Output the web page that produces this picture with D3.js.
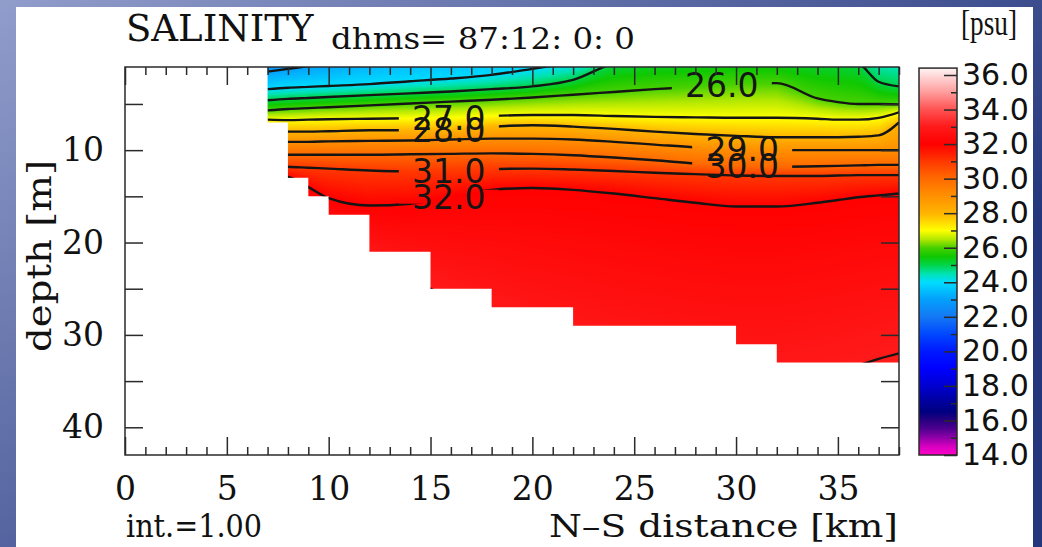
<!DOCTYPE html>
<html>
<head>
  <meta charset="utf-8">
  <title>SALINITY section</title>
  <style>
    body { margin: 0; background: #fff; }
    svg { display: block; }
  </style>
</head>
<body>
<div id="chart"></div>
<script src="https://cdnjs.cloudflare.com/ajax/libs/d3/7.8.5/d3.min.js"></script>
<script>
// stations along the N-S section [km]
var stations = [7, 8, 9, 10, 12, 14, 16, 18, 20, 22, 24, 26, 28, 30, 32, 34, 35, 36, 37, 38];

// salinity contour levels [psu] and depth [m] of each isohaline at the stations
// (values above 1 m or below the bottom are where the line leaves the section)
var levels = [22, 23, 24, 25, 26, 27, 28, 29, 30, 31, 32, 33];
var iso22 = [-0.2, -0.8, -1.4, -2, -3, -3, -3, -3, -3, -3, -3, -3, -3, -3, -3, -3, -3, -3, -3, -3];
var iso23 = [1.5, 1.2, 0.9, 0.6, -0.2, -1, -1.5, -2, -2, -2.5, -2.5, -2.5, -2.5, -2.5, -2.5, -2.5, -2.5, -2.5, -2.5, -2.5];
var iso24 = [3.4, 3.25, 3.15, 3.05, 2.85, 2.55, 2.25, 1.85, 1.2, 0.5, -0.2, -0.8, -1.2, -1.5, -1.5, -1.5, -1.5, -1.2, -1, -0.8];
var iso25 = [4.6, 4.45, 4.35, 4.25, 4.05, 3.85, 3.65, 3.4, 3.1, 2.4, 0.6, 0.0, -0.2, -0.3, -0.2, 0.0, 0.2, 0.6, 2.6, 3.1];
var iso26 = [5.7, 5.55, 5.45, 5.35, 5.15, 4.95, 4.75, 4.55, 4.3, 4.0, 3.7, 3.4, 3.15, 2.85, 2.75, 4.4, 4.8, 5.0, 5.0, 5.05];
var iso27 = [6.7, 6.75, 6.7, 6.65, 6.6, 6.55, 6.5, 6.3, 6.2, 6.2, 6.3, 6.4, 6.45, 6.5, 6.5, 6.6, 6.7, 6.7, 6.5, 5.9];
var iso28 = [7.7, 8.0, 8.0, 7.95, 7.85, 7.85, 7.8, 7.45, 7.3, 7.45, 7.7, 8.0, 8.25, 8.45, 8.6, 8.6, 8.6, 8.55, 8.4, 7.0];
var iso29 = [8.9, 9.1, 9.1, 9.05, 9.0, 8.95, 8.85, 8.75, 8.75, 8.85, 9.1, 9.4, 9.7, 9.9, 10.0, 10.0, 10.0, 10.0, 10.0, 10.0];
var iso30 = [10.3, 10.5, 10.5, 10.5, 10.5, 10.45, 10.4, 10.35, 10.4, 10.55, 10.8, 11.1, 11.45, 11.7, 11.8, 11.75, 11.7, 11.65, 11.6, 11.6];
var iso31 = [11.6, 11.8, 11.9, 12.0, 12.2, 12.3, 12.25, 12.05, 12.0, 12.1, 12.25, 12.45, 12.6, 12.75, 12.8, 12.8, 12.75, 12.7, 12.7, 12.7];
var iso32 = [12.7, 12.9, 14.0, 15.2, 16.0, 15.8, 15.0, 14.3, 14.1, 14.3, 14.7, 15.2, 15.7, 16.1, 16.1, 15.7, 15.4, 15.1, 14.9, 14.7];
var iso33 = [17, 18, 19, 20, 22, 24, 26, 28, 30, 31.5, 33, 34, 35, 35.5, 35.5, 34.5, 34, 33.3, 32.6, 32.0];
var isohalines = [iso22, iso23, iso24, iso25, iso26, iso27, iso28, iso29, iso30, iso31, iso32, iso33];

// bottom steps: bottomDepth[i] holds between bottomEdges[i] and bottomEdges[i+1]
var bottomEdges = [7, 8, 9, 10, 12, 15, 18, 22, 30, 32, 38];
var bottomDepth = [7, 13, 15, 17, 21, 25, 27, 29, 31, 33];

// labelled contours and where along the section the label sits [km]
var labelLevels = [26, 27, 28, 29, 30, 31, 32];
var labelKm = [29.3, 15.9, 15.9, 30.3, 30.3, 15.9, 15.9];

// axis ticks
var xMajor = [0, 5, 10, 15, 20, 25, 30, 35];
var xMinor = d3.range(0, 39).filter(function(d) { return d % 5 !== 0; });
var yMajor = [10, 20, 30, 40];
var yMinor = [5, 15, 25, 35];
var barMajor = d3.range(14, 37, 2);
var barMinor = d3.range(15, 36, 2);

// colour table of the shading
var cmapValue = [14, 14.5, 15, 15.5, 16, 16.5, 17, 18, 19, 20, 21, 22, 23, 24, 24.5, 25, 25.5, 26, 26.5, 27, 27.5, 28, 29, 30, 31, 32, 33, 34, 35, 36, 36.4];
var cmapColor = ["#ff00c8", "#d800c0", "#9000a8", "#500090", "#280080", "#000080", "#000098", "#0000d0", "#0000ff", "#0018ff", "#0048ff", "#1478f4", "#04a0fc", "#00dcff", "#00e2b0", "#00d448", "#10c800", "#48d000", "#b4e800", "#ffff00", "#ffd800", "#ffb400", "#ff9000", "#ff6a00", "#ff3800", "#ff0000", "#ff1a1a", "#ff5252", "#ff9c9c", "#ffdcdc", "#fff4f4"];

var W = 1042, H = 547;
var serif = "'DejaVu Serif', serif", sans = "'DejaVu Sans', sans-serif";

var svg = d3.select("#chart").append("svg").attr("width", W).attr("height", H);
var defs = svg.append("defs");

// slide background + white panel
var bg = defs.append("linearGradient").attr("id", "bg").attr("gradientUnits", "userSpaceOnUse")
    .attr("x1", 0).attr("y1", 0).attr("x2", 477).attr("y2", 640);
bg.append("stop").attr("offset", 0).attr("stop-color", "#919dcb");
bg.append("stop").attr("offset", 1).attr("stop-color", "#24367c");
svg.append("rect").attr("width", W).attr("height", H).attr("fill", "url(#bg)");
svg.append("rect").attr("x", 16).attr("y", 7).attr("width", 1017).attr("height", 540).attr("fill", "#fff");

var x = d3.scaleLinear().domain([0, 38]).range([125, 899]);
var y = d3.scaleLinear().domain([1, 43]).range([67, 455]);
var cy = d3.scaleLinear().domain([14, 36]).range([455, 75]);

function atKm(arr, xk) {
  if (xk <= stations[0]) return arr[0];
  for (var i = 1; i < stations.length; i++) {
    if (xk <= stations[i]) {
      var t = (xk - stations[i - 1]) / (stations[i] - stations[i - 1]);
      return arr[i - 1] + t * (arr[i] - arr[i - 1]);
    }
  }
  return arr[arr.length - 1];
}

function salinityAt(ds, d) {
  if (d <= ds[0]) return levels[0];
  for (var k = 1; k < ds.length; k++) {
    if (d < ds[k]) return levels[k - 1] + (d - ds[k - 1]) / (ds[k] - ds[k - 1]);
  }
  return levels[levels.length - 1];
}

var color = d3.scaleLinear().domain(cmapValue).range(cmapColor).interpolate(d3.interpolateRgb).clamp(true);
var lut = d3.range(0, 2241).map(function(i) { return d3.rgb(color(14 + i / 100)); });

// shaded field as a raster
var x0 = x.range()[0], y0 = y.range()[0];
var pw = Math.round(x.range()[1] - x0), ph = Math.round(y.range()[1] - y0);
var canvas = document.createElement("canvas");
canvas.width = pw; canvas.height = ph;
var ctx = canvas.getContext("2d");
var img = ctx.createImageData(pw, ph);
for (var i = 0; i < pw; i++) {
  var xk = x.invert(x0 + i + 0.5);
  var ds = isohalines.map(function(a) { return atKm(a, xk); });
  for (var j = 0; j < ph; j++) {
    var v = salinityAt(ds, y.invert(y0 + j + 0.5));
    var c = lut[Math.max(0, Math.min(2240, Math.round((v - 14) * 100)))];
    var p = (j * pw + i) * 4;
    img.data[p] = c.r; img.data[p + 1] = c.g; img.data[p + 2] = c.b; img.data[p + 3] = 255;
  }
}
ctx.putImageData(img, 0, 0);

// wet part of the section (white below the bottom)
var wet = [[7, 1], [38, 1]];
for (var b = bottomDepth.length - 1; b >= 0; b--) {
  wet.push([bottomEdges[b + 1], bottomDepth[b]]);
  wet.push([bottomEdges[b], bottomDepth[b]]);
}
defs.append("clipPath").attr("id", "wet").append("path")
    .attr("d", d3.line().x(function(d) { return x(d[0]); }).y(function(d) { return y(d[1]); })(wet) + "Z");

svg.append("image").attr("x", x0).attr("y", y0).attr("width", pw).attr("height", ph)
    .attr("preserveAspectRatio", "none")
    .attr("href", canvas.toDataURL("image/png"))
    .attr("clip-path", "url(#wet)");

// gaps in the lines under the labels
var labels = labelLevels.map(function(l, k) {
  var d = atKm(isohalines[levels.indexOf(l)], labelKm[k]);
  return { level: l, px: x(labelKm[k]), py: y(d) };
});
var mask = defs.append("mask").attr("id", "gaps").attr("maskUnits", "userSpaceOnUse")
    .attr("x", 0).attr("y", 0).attr("width", W).attr("height", H);
mask.append("rect").attr("width", W).attr("height", H).attr("fill", "#fff");
mask.selectAll(".gap").data(labels).enter().append("rect")
    .attr("x", function(d) { return d.px - 50; })
    .attr("y", function(d) { return d.py - 7; })
    .attr("width", 100).attr("height", 14).attr("fill", "#000");

var line = d3.line()
    .x(function(d) { return x(d[0]); })
    .y(function(d) { return y(d[1]); })
    .curve(d3.curveMonotoneX);

svg.append("g").attr("clip-path", "url(#wet)")
  .append("g").attr("mask", "url(#gaps)")
  .selectAll("path").data(isohalines).enter().append("path")
    .attr("d", function(a) { return line(stations.map(function(s, k) { return [s, a[k]]; })); })
    .attr("fill", "none").attr("stroke", "#151515").attr("stroke-width", 2.4);

svg.append("g").selectAll("text").data(labels).enter().append("text")
    .attr("x", function(d) { return d.px; })
    .attr("y", function(d) { return d.py; })
    .attr("dy", "0.36em")
    .attr("text-anchor", "middle")
    .attr("font-family", sans).attr("font-size", 33).attr("fill", "#151515")
    .text(function(d) { return d3.format(".1f")(d.level); });

// frame and inward ticks
function style(g, fs) {
  g.select(".domain").remove();
  g.attr("color", "#2a2a2a").attr("font-family", serif).attr("font-size", fs);
  g.selectAll("line").attr("stroke-width", 1.5);
  g.selectAll("text").attr("fill", "#111");
}
svg.append("g").attr("transform", "translate(0,455)")
    .call(d3.axisBottom(x).tickValues(xMajor).tickSizeInner(-18).tickSizeOuter(0).tickPadding(22))
    .call(style, 33);
svg.append("g").attr("transform", "translate(0,455)")
    .call(d3.axisBottom(x).tickValues(xMinor).tickSizeInner(-8).tickSizeOuter(0).tickFormat(""))
    .call(style, 10);
svg.append("g").attr("transform", "translate(0,67)")
    .call(d3.axisTop(x).tickValues(xMajor).tickSizeInner(-18).tickSizeOuter(0).tickFormat(""))
    .call(style, 10);
svg.append("g").attr("transform", "translate(0,67)")
    .call(d3.axisTop(x).tickValues(xMinor).tickSizeInner(-8).tickSizeOuter(0).tickFormat(""))
    .call(style, 10);
svg.append("g").attr("transform", "translate(125,0)")
    .call(d3.axisLeft(y).tickValues(yMajor).tickSizeInner(-18).tickSizeOuter(0).tickPadding(21))
    .call(style, 33);
svg.append("g").attr("transform", "translate(125,0)")
    .call(d3.axisLeft(y).tickValues(yMinor).tickSizeInner(-18).tickSizeOuter(0).tickFormat(""))
    .call(style, 10);
svg.append("g").attr("transform", "translate(899,0)")
    .call(d3.axisRight(y).tickValues(yMajor.concat(yMinor)).tickSizeInner(-18).tickSizeOuter(0).tickFormat(""))
    .call(style, 10);
svg.append("rect").attr("x", 125).attr("y", 67).attr("width", 774).attr("height", 388)
    .attr("fill", "none").attr("stroke", "#2a2a2a").attr("stroke-width", 1.5);

// colour bar
var bw = 38, bx = 919, bTop = cy(36.4);
var grad = defs.append("linearGradient").attr("id", "bar").attr("x1", 0).attr("y1", 1).attr("x2", 0).attr("y2", 0);
grad.selectAll("stop").data(cmapValue).enter().append("stop")
    .attr("offset", function(v) { return (v - 14) / (36.4 - 14); })
    .attr("stop-color", function(v, k) { return cmapColor[k]; });
svg.append("rect").attr("x", bx).attr("y", bTop).attr("width", bw).attr("height", 455 - bTop)
    .attr("fill", "url(#bar)").attr("stroke", "#2a2a2a").attr("stroke-width", 1.5);
svg.append("g").attr("transform", "translate(" + (bx + bw) + ",0)")
    .call(d3.axisRight(cy).tickValues(barMajor).tickSizeInner(-13).tickSizeOuter(0).tickPadding(5).tickFormat(d3.format(".1f")))
    .call(style, 30)
    .attr("font-family", sans);
svg.append("g").attr("transform", "translate(" + (bx + bw) + ",0)")
    .call(d3.axisRight(cy).tickValues(barMinor).tickSizeInner(-6).tickSizeOuter(0).tickFormat(""))
    .call(style, 10);

// titles
svg.append("text").attr("x", 126).attr("y", 41).attr("font-family", serif).attr("font-size", 37)
    .attr("fill", "#111").text("SALINITY");
svg.append("text").attr("x", 331).attr("y", 49).attr("font-family", serif).attr("font-size", 30)
    .attr("textLength", 304).attr("lengthAdjust", "spacingAndGlyphs")
    .attr("fill", "#111").text("dhms= 87:12: 0: 0");
svg.append("text").attr("x", 961).attr("y", 35).attr("font-family", "'Liberation Serif', serif").attr("font-size", 36)
    .attr("textLength", 56).attr("lengthAdjust", "spacingAndGlyphs")
    .attr("fill", "#111").text("[psu]");
svg.append("text").attr("transform", "translate(51,256) rotate(-90)").attr("text-anchor", "middle")
    .attr("font-family", serif).attr("font-size", 33)
    .attr("textLength", 192).attr("lengthAdjust", "spacingAndGlyphs")
    .attr("fill", "#111").text("depth [m]");
svg.append("text").attr("x", 126).attr("y", 537).attr("font-family", serif).attr("font-size", 32)
    .attr("textLength", 136).attr("lengthAdjust", "spacingAndGlyphs")
    .attr("fill", "#111").text("int.=1.00");
svg.append("text").attr("x", 898).attr("y", 537).attr("text-anchor", "end").attr("font-family", serif).attr("font-size", 31)
    .attr("textLength", 349).attr("lengthAdjust", "spacingAndGlyphs")
    .attr("fill", "#111").text("N\u2013S distance [km]");
</script>
</body>
</html>
